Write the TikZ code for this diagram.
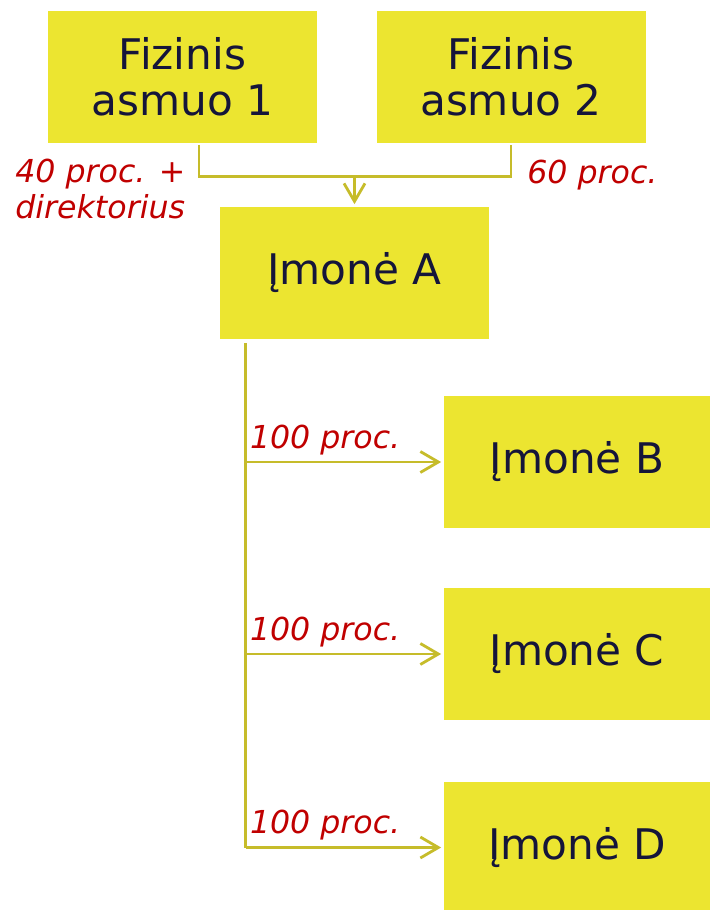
\documentclass[tikz,border=0pt]{standalone}
\usepackage{fontspec}
\setmainfont{DejaVu Sans}[ItalicFont={DejaVu Sans Oblique}]
\usepackage{tikz}
\usetikzlibrary{calc,arrows.meta}
\definecolor{boxyellow}{HTML}{ECE530}
\definecolor{lineolive}{HTML}{C6BC2A}
\definecolor{textnavy}{HTML}{15153A}
\definecolor{labelred}{HTML}{C00000}

\begin{document}
\begin{tikzpicture}[every node/.style={inner sep=0pt},
    entity/.style={fill=boxyellow,text=textnavy,minimum width=5.38cm,minimum height=2.64cm,align=center,font=\fontsize{24}{26}\selectfont},
    share/.style={text=labelred,align=left,font=\fontsize{18}{20}\selectfont\itshape},
    link/.style={draw=lineolive,line width=1.6pt},
    owns/.style={link,-{Straight Barb[length=0.36cm,width=0.42cm,line width=1.6pt]},shorten >=0.05cm}]
    \useasboundingbox (0,0) rectangle (14.2,-18.2);

    \node[entity] (pA) at (3.65,-1.53) {Fizinis\\asmuo 1};
    \node[entity] (pB) at (10.22,-1.53) {Fizinis\\asmuo 2};
    \node[entity] (cA) at (7.09,-5.46) {Įmonė A};

    \node[entity,minimum width=5.32cm] (cB) at (11.54,-9.24) {Įmonė B};
    \node[entity,minimum width=5.32cm] (cC) at (11.54,-13.08) {Įmonė C};
    \node[entity,minimum width=5.32cm] (cD) at (11.54,-16.95) {Įmonė D};

    % owners
    \coordinate (pAout) at ($(pA.south)+(0.33,-0.04)$);
    \coordinate (pBout) at ($(pB.south)+(0,-0.04)$);
    \coordinate (join) at ($(cA.north)+(0,0.6)$);
    \draw[link] (pAout) |- (join) -| (pBout);
    \draw[owns] (join) -- (cA.north);
    \node[share,anchor=base west] (sA) at (0.3,-4.36) {40 proc. +\\direktorius};
    \node[share,anchor=base west] (sP) at (10.54,-3.66) {60 proc.};

    % subsidiaries
    \coordinate (trunk) at ($(cA.south west)+(0.52,-0.08)$);
    \draw[link] (trunk) -- (trunk |- cD.west);
    \foreach \c in {B,C,D}{
      \draw[owns] (trunk |- c\c.west) -- (c\c.west);
      \node[share,anchor=base west] (s\c) at ($(trunk |- c\c.west)+(0.08,0.28)$) {100 proc.};
    }
\end{tikzpicture}
\end{document}
